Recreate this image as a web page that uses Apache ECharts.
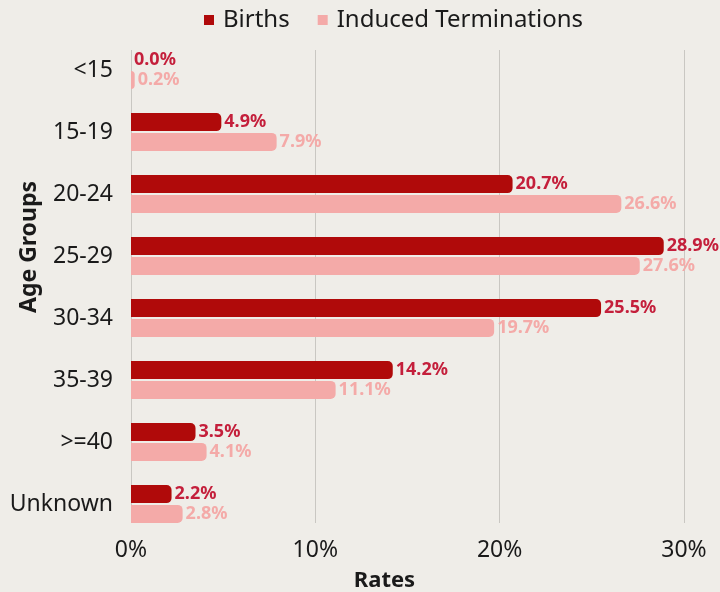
<!DOCTYPE html>
<html>
<head>
<meta charset="utf-8">
<script src="https://cdn.jsdelivr.net/npm/echarts@6/dist/echarts.min.js"></script>
<style>
  html, body { margin: 0; padding: 0; background: #efede8; }
  #chart { width: 720px; height: 592px; }
</style>
</head>
<body>
<div id="chart"></div>
<script>
  var ageGroups = ['<15', '15-19', '20-24', '25-29', '30-34', '35-39', '>=40', 'Unknown']
  var births = [0.0, 4.9, 20.7, 28.9, 25.5, 14.2, 3.5, 2.2]
  var terminations = [0.2, 7.9, 26.6, 27.6, 19.7, 11.1, 4.1, 2.8]
  var rateTicks = [0, 10, 20, 30]

  var font = 'Noto Sans'
  var darkRed = '#b00a0a'
  var redText = '#c41f3b'
  var pink = '#f4aaa8'

  var chart = echarts.init(document.getElementById('chart'))

  function barLabel (color) {
    return {
      show: true,
      position: 'right',
      distance: 3,
      color: color,
      fontFamily: font,
      fontWeight: 'bold',
      fontSize: 18,
      formatter: function (p) { return p.value.toFixed(1) + '%' }
    }
  }

  chart.setOption({
    backgroundColor: '#efede8',
    animation: false,
    legend: {
      top: 3,
      left: 199,
      icon: 'rect',
      itemWidth: 10,
      itemHeight: 10,
      itemGap: 28,
      textStyle: { fontFamily: font, fontSize: 24, color: '#1a1a1a', padding: [0, 0, 0, 4] },
      data: ['Births', 'Induced Terminations']
    },
    grid: [
      { left: 131, right: 36, top: 39, bottom: 57, outerBoundsMode: 'none', containLabel: false },
      // only used to draw the vertical gridlines over the plot area
      { left: 131, right: 36, top: 50, bottom: 69, outerBoundsMode: 'none', containLabel: false }
    ],
    xAxis: [
      {
        gridIndex: 0,
        type: 'value',
        min: rateTicks[0],
        max: rateTicks[rateTicks.length - 1],
        interval: 10,
        axisLine: { show: false },
        axisTick: { show: false },
        splitLine: { show: false },
        axisLabel: {
          margin: 4,
          fontFamily: font,
          fontSize: 23,
          color: '#1a1a1a',
          formatter: '{value}%'
        },
        name: 'Rates',
        nameLocation: 'middle',
        nameGap: 35,
        nameMoveOverlap: false,
        nameTextStyle: {
          fontFamily: font,
          fontSize: 22,
          fontWeight: 'bold',
          color: '#1a1a1a',
          padding: [0, 46, 0, 0]
        }
      },
      {
        gridIndex: 1,
        type: 'value',
        min: rateTicks[0],
        max: rateTicks[rateTicks.length - 1],
        interval: 10,
        axisLine: { show: false },
        axisTick: { show: false },
        axisLabel: { show: false },
        splitLine: { show: true, showMinLine: true, showMaxLine: true, lineStyle: { color: '#c9c7c2', width: 1 } }
      }
    ],
    yAxis: [
      {
        gridIndex: 0,
        type: 'category',
        data: ageGroups,
        inverse: true,
        axisLine: { show: false },
        axisTick: { show: false },
        axisLabel: {
          margin: 18,
          fontFamily: font,
          fontSize: 23,
          color: '#1a1a1a'
        },
        name: 'Age Groups',
        nameLocation: 'middle',
        nameRotate: 90,
        nameGap: 90,
        nameMoveOverlap: false,
        nameTextStyle: {
          fontFamily: font,
          fontSize: 23,
          fontWeight: 'bold',
          color: '#1a1a1a',
          padding: [0, 0, 0, 80]
        }
      },
      {
        gridIndex: 1,
        type: 'category',
        data: ageGroups,
        show: false
      }
    ],
    series: [
      {
        name: 'Births',
        type: 'bar',
        data: births,
        barWidth: 18,
        barGap: '10%',
        itemStyle: { color: darkRed, borderRadius: [0, 5, 5, 0] },
        label: barLabel(redText),
        z: 3
      },
      {
        name: 'Induced Terminations',
        type: 'bar',
        data: terminations,
        barWidth: 18,
        barGap: '10%',
        itemStyle: { color: pink, borderRadius: [0, 5, 5, 0] },
        label: barLabel(pink),
        z: 3
      }
    ]
  })
</script>
</body>
</html>
